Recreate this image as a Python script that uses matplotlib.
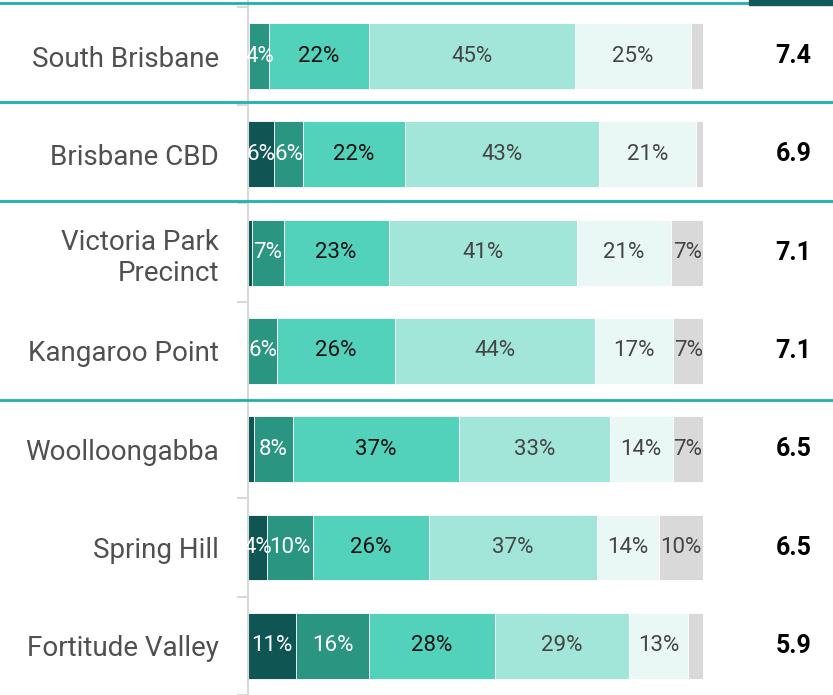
import numpy as np
import matplotlib.pyplot as plt

plt.rcParams['font.family'] = ['Roboto', 'DejaVu Sans']

suburbs = ['South Brisbane', 'Brisbane CBD', 'Victoria Park\nPrecinct', 'Kangaroo Point',
           'Woolloongabba', 'Spring Hill', 'Fortitude Valley']
scores = [7.4, 6.9, 7.1, 7.1, 6.5, 6.5, 5.9]

# share of responses per rating band (darkest -> lightest, then grey)
band1 = [0.3, 5.7, 0.8, 0.0, 1.4, 4.2, 10.6]
band2 = [4.4, 6.4, 7.0, 6.4, 8.4, 10.0, 16.0]
band3 = [21.8, 22.3, 23.1, 25.9, 36.6, 25.6, 27.6]
band4 = [45.3, 42.7, 41.3, 44.0, 33.0, 36.9, 29.4]
band5 = [25.4, 21.2, 20.7, 17.1, 13.9, 13.6, 13.1]
band6 = [2.8, 1.7, 7.1, 6.6, 6.7, 9.7, 3.3]

bands = [band1, band2, band3, band4, band5, band6]
colors = ['#0f5553', '#2a9580', '#52d1bb', '#a1e6d8', '#e9f8f5', '#d9d9d9']
text_colors = ['white', 'white', '#111111', '#454545', '#454545', '#454545']

fig = plt.figure(figsize=(8.33, 6.95), dpi=100)
ax_left = 248 / 833
ax_w = 455.3 / 833
ax = fig.add_axes([ax_left, 0, ax_w, 1])

y = np.arange(len(suburbs))
left = np.zeros(len(suburbs))
for vals, c, tc in zip(bands, colors, text_colors):
    vals = np.array(vals)
    ax.barh(y, vals, left=left, height=0.67, color=c, edgecolor='white', linewidth=0.6)
    for i, v in enumerate(vals):
        if v >= 3.5:
            ax.text(left[i] + v / 2, y[i], f'{v:.0f}%', ha='center', va='center',
                    color=tc, fontsize=16)
    left += vals

ax.set_xlim(0, 100)
ax.set_ylim(6.35, -0.57)

# score column
for i, s in enumerate(scores):
    ax.text(119.8, y[i], f'{s:.1f}', ha='center', va='center', fontsize=18,
            fontweight='bold', color='black', clip_on=False)

# section separators across whole figure
xmin = -ax_left / ax_w
xmax = (1 - ax_left) / ax_w
for sep in [-0.535, 0.465, 1.47, 3.5]:
    ax.axhline(sep, xmin=xmin, xmax=xmax, color='#1fb0aa', lw=2, clip_on=False, zorder=5)

fig.patches.append(plt.Rectangle((749 / 833, 1 - 5 / 695), 84 / 833, 5 / 695,
                                 transform=fig.transFigure, color='#12595a', zorder=6))

ax.set_yticks(y)
ax.set_yticklabels(suburbs, fontsize=20, color='#505050', linespacing=1.2)
ax.set_yticks(np.arange(-0.5, len(suburbs)), minor=True)
ax.tick_params(axis='y', which='major', length=0, pad=21)
ax.tick_params(axis='y', which='minor', length=8, color='#d9d9d9', width=1.5)
ax.set_xticks([])
for side in ['top', 'right', 'bottom']:
    ax.spines[side].set_visible(False)
ax.spines['left'].set_color('#d9d9d9')
ax.spines['left'].set_linewidth(1.5)

fig.savefig('out.png', dpi=100)
